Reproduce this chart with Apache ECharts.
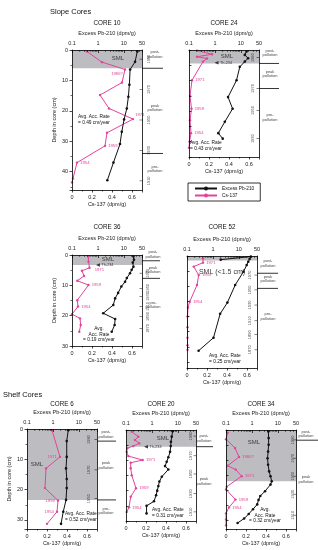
<!DOCTYPE html>
<html><head><meta charset="utf-8">
<script src="https://cdn.jsdelivr.net/npm/echarts@6/dist/echarts.min.js"></script>
<style>html,body{margin:0;padding:0;background:#fff}#c{width:318px;height:550px}</style>
</head><body><div id="c"></div>
<script>
// ---------- DATA ----------
const logMinorTicks = [0.2,0.3,0.4,0.5,0.6,0.7,0.8,0.9,2,3,4,5,6,7,8,9,20,30,40];
const zoneNames3 = ['post-\npollution','peak\npollution','pre-\npollution'];
const zoneNames2 = ['post-\npollution','peak\npollution'];

// CORE 10
const core10_csDepth = [0.5, 4, 6.4, 10.7, 14.8, 19.2, 22.7, 27.2, 31.5, 37, 42.2, 43.5];
const core10_cs = [0.15, 0.30, 0.53, 0.50, 0.28, 0.37, 0.61, 0.35, 0.33, 0.05, 0.01, 0.0];
const core10_csLabelIdx = [2, 6, 8, 9];
const core10_csLabels = ['1986?', '1971', '1959', '1954'];
const core10_pbDepth = [0.5, 3.9, 6.4, 11.4, 15.4, 19.2, 22.8, 26.9, 30.9, 37, 42.8];
const core10_pb = [33, 27, 17.4, 16.3, 14.9, 13, 10.2, 8.3, 7.1, 3.96, 2.3];
const core10_sml = 6;
const core10_yearDepth = [3, 13, 23, 33, 43];
const core10_years = ['1990', '1970', '1950', '1930', '1910'];
const core10_zoneBounds = [6, 34];
const core10_zoneDepth = [1.5, 19, 39];
const core10_rate = '0.49';

// CORE 24
const core24_csDepth = [0.2, 1.4, 2.2, 2.8, 3.8, 9.9, 15, 19.2, 23, 27.2, 30, 32];
const core24_cs = [0.08, 0.23, 0.08, 0.18, 0.14, 0.03, 0.01, 0.025, 0.01, 0.02, 0.005, 0.0];
const core24_csLabelIdx = [5, 7, 9];
const core24_csLabels = ['1971', '1959', '1954'];
const core24_pbDepth = [0.5, 1.6, 2.7, 3.8, 5.5, 9.9, 15.4, 19.2, 23.5, 27.2, 29];
const core24_pb = [16.6, 14.2, 19, 14.2, 9.1, 6.8, 3.2, 4.8, 2.4, 1.35, 2.0];
const core24_th = [1.15, 4.2];
const core24_sml = 4.4;
const core24_yearDepth = [2.5, 12.6, 19.8, 29];
const core24_years = ['1990', '1970', '1950', '1930'];
const core24_zoneBounds = [4.4, 12.6];
const core24_zoneDepth = [1, 7.8, 22];
const core24_rate = '0.43';

// CORE 36
const core36_csDepth = [0.5, 2.2, 4.2, 5.2, 6.9, 8.5, 9.9, 14.9, 17, 19.5, 20.9, 23.1, 25.3];
const core36_cs = [0.163, 0.165, 0.175, 0.10, 0.12, 0.053, 0.165, 0.053, 0.06, 0.0, 0.08, 0.087, 0.073];
const core36_csLabelIdx = [2, 6, 8];
const core36_csLabels = ['1971', '1959', '1954'];
const core36_pbDepth = [0.5, 1.6, 2.5, 3.9, 4.9, 6, 7.6, 8.8, 10.4, 12.5, 14.3, 16.5, 19.2, 21.1, 23.1, 25.3];
const core36_pb = [23.4, 24.5, 22, 23.4, 20, 17.3, 13, 11.1, 8, 6, 4.6, 3.9, 1.6, 4.6, 4.4, 3.4];
const core36_th = [1.0, 3.3];
const core36_sml = 3.3;
const core36_yearDepth = [6, 11, 13.7, 17, 20.3, 24.2];
const core36_years = ['1970', '1950', '1930', '1910', '1890', '1870'];
const core36_zoneBounds = [1.9, 7.7];
const core36_zoneDepth = [-0.2, 4.9, 16.5];
const core36_rate = '0.19';

// CORE 52
const core52_csDepth = [0.8, 2.2, 3.5, 6.3, 9.6, 15.1, 17, 20, 23.5, 27, 29.5, 31];
const core52_cs = [0.16, 0.16, 0.067, 0.117, 0.1, 0.027, 0.01, 0.005, 0.005, 0.005, 0.005, 0.005];
const core52_csLabelIdx = [1, 3, 5];
const core52_csLabels = ['1971', '1959', '1954'];
const core52_pbDepth = [1.2, 0.2, 1.0, 1.9, 3, 5.2, 9.6, 15.4, 19.1, 27, 31.3];
const core52_pb = [2.0, 29, 26, 23, 20, 15, 7.2, 3.6, 1.9, 1.05, 0.28];
const core52_sml = 1.5;
const core52_yearDepth = [6.3, 11.2, 16.2, 21.4, 26, 31];
const core52_years = ['1970', '1950', '1930', '1910', '1890', '1870'];
const core52_zoneBounds = [5.7, 10.7];
const core52_zoneDepth = [2.4, 7.6, 20];
const core52_rate = '0.25';

// CORE 6
const core6_csDepth = [0.4, 9.2, 13, 19.5, 23.6, 27.3, 31.3];
const core6_cs = [0.25, 0.33, 0.19, 0.18, 0.31, 0.30, 0.20];
const core6_csLabelIdx = [1, 4, 5];
const core6_csLabels = ['1971', '1959', '1954'];
const core6_pbDepth = [0.4, 4, 9.2, 13, 16.5, 19.5, 23.4, 27.3, 31.3];
const core6_pb = [3.9, 3.4, 3.4, 3.2, 3.4, 3.4, 3.2, 2.5, 2.05];
const core6_sml = 23.4;
const core6_yearDepth = [3.5, 13.5, 23];
const core6_years = ['1990', '1970', '1950'];
const core6_zoneBounds = [4, 23.4];
const core6_zoneDepth = [1.8, 12, 27];
const core6_rate = '0.52';

// CORE 20
const core20_csDepth = [0.55, 2.2, 3.3, 4.4, 5.3, 6, 7.2, 8.6, 9.9, 10.8, 12.6, 14.9, 19.2, 22, 25.5, 27];
const core20_cs = [0.057, 0.123, 0.09, 0.133, 0.073, 0.013, 0.007, 0.023, 0.167, 0.047, 0.047, 0.057, 0.1, 0.047, 0.03, 0.007];
const core20_csLabelIdx = [8, 12, 14];
const core20_csLabels = ['1971', '1959', '1954'];
const core20_pbDepth = [0.4, 2.2, 3.9, 5.3, 7.2, 9, 10.5, 11.9, 13, 15.4, 17, 18.5, 20, 21.5, 23.5, 25, 27.5];
const core20_pb = [6.3, 5.8, 5.4, 5.3, 5.0, 4.3, 3.7, 3.2, 4.3, 2.4, 1.94, 1.77, 1.6, 1.45, 1.2, 0.62, 0.62];
const core20_th = [0.59, 5.5];
const core20_sml = 5.5;
const core20_yearDepth = [2, 8.5, 14.5, 21, 27];
const core20_years = ['1990', '1970', '1950', '1930', '1910'];
const core20_zoneBounds = [5.5];
const core20_zoneDepth = [2.8, 17];
const core20_rate = '0.31';

// CORE 34
const core34_csDepth = [0.9, 3.1, 6, 9, 11.9, 13.2, 15.4, 18.9, 19.8, 23.2, 25.8, 27.8, 29.8, 31.8];
const core34_cs = [0.017, 0.0, 0.09, 0.13, 0.017, 0.097, 0.157, 0.007, 0.0, 0.095, 0.03, 0.0, 0.0, 0.0];
const core34_csLabelIdx = [3, 6, 9, 10];
const core34_csLabels = ['1986?', '1971', '1959', '1954'];
const core34_pbDepth = [0.5, 2.7, 4.9, 7.2, 9.4, 11.6, 13.8, 15.4, 17.1, 18.2, 20.4, 22, 23.3, 24.8, 26.4, 28, 29.5, 31];
const core34_pb = [4.3, 4.4, 4.4, 4.2, 4.0, 4.2, 4.6, 5.2, 5.8, 5.2, 3.2, 2.1, 1.8, 1.6, 1.1, 0.75, 0.5, 0.28];
const core34_sml = 17.1;
const core34_yearDepth = [3.3, 9.4, 15.4, 21.4, 28.4];
const core34_years = ['1990', '1970', '1950', '1930', '1910'];
const core34_zoneBounds = [3.4];
const core34_zoneDepth = [1.3, 16.5];
const core34_rate = '0.32';

// ---------- LAYOUT / STYLE ----------
const FONT = '"Liberation Sans", Arial, sans-serif';
const PINK = '#e2449a', BLACK = '#111111', GRAY = '#bdbdc1';

const panels = [
  {title:'CORE 10', left:72, top:50, h:140, ymax:46, titleY:23, depthName:true,
   csD:core10_csDepth, cs:core10_cs, li:core10_csLabelIdx, lt:core10_csLabels,
   lp:[['left',[1,4]],['right',[-1,-4]],['right',[0,0]],['right',[0,0]]],
   pbD:core10_pbDepth, pb:core10_pb, th:null, sml:core10_sml, smlText:'SML', smlPos:'inside', smlOff:[11,-1], smlSize:6,
   yd:core10_yearDepth, yr:core10_years, yearX:14.5, zb:core10_zoneBounds, zd:core10_zoneDepth, zn:zoneNames3, labelX:21, lineEnd:29,
   avg:'Avg. Acc. Rate\n= '+core10_rate+' cm/year', avgX:78, avgY:114, avgAlign:'left'},
  {title:'CORE 24', left:189, top:50, h:107, ymax:35, titleY:23, depthName:false,
   csD:core24_csDepth, cs:core24_cs, li:core24_csLabelIdx, lt:core24_csLabels,
   lp:[['right',[0,0]],['right',[0,0]],['right',[0,0]]],
   pbD:core24_pbDepth, pb:core24_pb, th:core24_th, sml:core24_sml, smlText:'SML', smlPos:'inside', smlOff:[3,0], smlSize:6,
   yd:core24_yearDepth, yr:core24_years, yearX:2, zb:core24_zoneBounds, zd:core24_zoneDepth, zn:zoneNames3, labelX:19, lineEnd:28,
   avg:'Avg. Acc. Rate\n= '+core24_rate+' cm/year', avgX:190, avgY:140, avgAlign:'left'},
  {title:'CORE 36', left:72, top:255, h:91, ymax:30, titleY:227, depthName:true,
   csD:core36_csDepth, cs:core36_cs, li:core36_csLabelIdx, lt:core36_csLabels,
   lp:[['right',[2,2]],['right',[0,0]],['right',[0,0]]],
   pbD:core36_pbDepth, pb:core36_pb, th:core36_th, sml:core36_sml, smlText:'SML', smlPos:'inside', smlOff:[1,-1], smlSize:6,
   yd:core36_yearDepth, yr:core36_years, yearX:14, zb:core36_zoneBounds, zd:core36_zoneDepth, zn:zoneNames3, labelX:19, lineEnd:26,
   avg:'Avg.\nAcc. Rate\n= '+core36_rate+' cm/year', avgX:99, avgY:326, avgAlign:'center'},
  {title:'CORE 52', left:187, top:256, h:112, ymax:37, titleY:227, depthName:false,
   csD:core52_csDepth, cs:core52_cs, li:core52_csLabelIdx, lt:core52_csLabels,
   lp:[['right',[0,0]],['right',[0,0]],['right',[0,0]]],
   pbD:core52_pbDepth, pb:core52_pb, th:null, sml:core52_sml, smlText:'SML (<1.5 cm)', smlPos:'bottom', smlOff:[0,3], smlSize:7,
   yd:core52_yearDepth, yr:core52_years, yearX:1, zb:core52_zoneBounds, zd:core52_zoneDepth, zn:zoneNames3, labelX:19, lineEnd:29,
   avg:'Avg. Acc. Rate\n= '+core52_rate+' cm/year', avgX:209, avgY:353, avgAlign:'left'},
  {title:'CORE 6', left:27, top:429, h:100, ymax:33, titleY:404, depthName:true,
   csD:core6_csDepth, cs:core6_cs, li:core6_csLabelIdx, lt:core6_csLabels,
   lp:[['left',[0,0]],['left',[0,0]],['left',[0,0]]],
   pbD:core6_pbDepth, pb:core6_pb, th:null, sml:core6_sml, smlText:'SML', smlPos:'inside', smlOff:[-25,0], smlSize:6,
   yd:core6_yearDepth, yr:core6_years, yearX:0, zb:core6_zoneBounds, zd:core6_zoneDepth, zn:zoneNames3, labelX:17, lineEnd:27,
   avg:'Avg. Acc. Rate\n= '+core6_rate+' cm/year', avgX:65, avgY:511, avgAlign:'left'},
  {title:'CORE 20', left:126, top:430, h:91, ymax:30, titleY:404, depthName:false,
   csD:core20_csDepth, cs:core20_cs, li:core20_csLabelIdx, lt:core20_csLabels,
   lp:[['right',[0,0]],['right',[0,0]],['right',[0,0]]],
   pbD:core20_pbDepth, pb:core20_pb, th:core20_th, sml:core20_sml, smlText:'SML', smlPos:'inside', smlOff:[2,0], smlSize:6,
   yd:core20_yearDepth, yr:core20_years, yearX:2.7, zb:core20_zoneBounds, zd:core20_zoneDepth, zn:zoneNames2, labelX:16, lineEnd:25,
   avg:'Avg. Acc. Rate\n= '+core20_rate+' cm/year', avgX:152, avgY:507, avgAlign:'left'},
  {title:'CORE 34', left:226, top:430, h:99, ymax:33, titleY:404, depthName:false,
   csD:core34_csDepth, cs:core34_cs, li:core34_csLabelIdx, lt:core34_csLabels,
   lp:[['right',[0,0]],['right',[0,0]],['right',[0,0]],['right',[0,0]]],
   pbD:core34_pbDepth, pb:core34_pb, th:null, sml:core34_sml, smlText:'SML', smlPos:'inside', smlOff:[-7,-13], smlSize:6,
   yd:core34_yearDepth, yr:core34_years, yearX:5, zb:core34_zoneBounds, zd:core34_zoneDepth, zn:zoneNames2, labelX:18, lineEnd:30,
   avg:'Avg.\nAcc. Rate\n= '+core34_rate+' cm/year', avgX:265, avgY:507, avgAlign:'center'}
];

const option = {
  animation:false, backgroundColor:'#fff', textStyle:{fontFamily:FONT},
  grid:[], xAxis:[], yAxis:[], series:[], graphic:[],
  legend:{data:['Excess Pb-210','Cs-137'], orient:'vertical', left:188, top:183,
    padding:[3,6,3,6], itemGap:2, itemWidth:22, itemHeight:5, borderColor:'#000', borderWidth:0.8,
    borderRadius:0, selectedMode:false, textStyle:{fontSize:4.8, color:'#111', fontFamily:FONT}}
};

const aLine = () => ({show:true, onZero:false, lineStyle:{color:'#000', width:0.8}});
const txt = (t, x, y, size, align, vAlign, color) => ({type:'text', x:x, y:y, silent:true, z:50,
  style:{text:t, fill:color||'#111', font:size+'px '+FONT, fontSize:size, fontFamily:FONT,
    align:align, verticalAlign:vAlign, textAlign:align, textVerticalAlign:vAlign, lineHeight:size*1.15}});

option.graphic.push(txt('Slope Cores', 50, 12, 7.5, 'left', 'middle'));
option.graphic.push(txt('Shelf Cores', 3, 395, 7.5, 'left', 'middle'));

panels.forEach(p => {
  const g = option.grid.length;
  option.grid.push({left:p.left, top:p.top, width:70, height:p.h, containLabel:false, outerBoundsMode:'none'});
  const xb = option.xAxis.length;
  option.xAxis.push({type:'value', gridIndex:g, position:'bottom', min:0, max:0.7, interval:0.2, z:5,
    name:'Cs-137 (dpm/g)', nameLocation:'middle', nameGap:11.5,
    nameTextStyle:{fontSize:5.5, color:'#222', fontFamily:FONT},
    axisLine:aLine(), axisTick:{show:true, inside:false, length:2.5, lineStyle:{color:'#000', width:0.7}},
    minorTick:{show:true, splitNumber:2, length:1.5, lineStyle:{color:'#000', width:0.6}},
    axisLabel:{fontSize:5.5, color:'#222', margin:4, fontFamily:FONT, showMaxLabel:false},
    splitLine:{show:false}, minorSplitLine:{show:false}});
  const xt = option.xAxis.length;
  option.xAxis.push({type:'log', logBase:10, gridIndex:g, position:'top', min:0.1, max:50, z:5,
    name:'Excess Pb-210 (dpm/g)', nameLocation:'middle', nameGap:13.5,
    nameTextStyle:{fontSize:5.5, color:'#222', fontFamily:FONT},
    axisLine:aLine(), axisTick:{show:true, inside:true, length:3, lineStyle:{color:'#000', width:0.7}},
    axisLabel:{fontSize:5.5, color:'#222', margin:4, fontFamily:FONT, formatter:v => String(+(+v).toPrecision(3))},
    splitLine:{show:false}});
  const yl = option.yAxis.length;
  option.yAxis.push({type:'value', gridIndex:g, position:'left', inverse:true, min:0, max:p.ymax, z:5,
    interval: p.depthName ? 10 : 5,
    name: p.depthName ? 'Depth in core (cm)' : '', nameLocation:'middle', nameGap:15, nameRotate:90,
    nameTextStyle:{fontSize:5.5, color:'#222', fontFamily:FONT},
    axisLine:aLine(), axisTick:{show:true, inside:!p.depthName, length:2.5, lineStyle:{color:'#000', width:0.7}},
    minorTick:{show:p.depthName, splitNumber:2, length:1.5, lineStyle:{color:'#000', width:0.6}},
    axisLabel:{show:p.depthName, fontSize:5.5, color:'#222', margin:4, fontFamily:FONT, showMaxLabel:(p.ymax % 10 === 0)},
    splitLine:{show:false}, minorSplitLine:{show:false}});
  option.yAxis.push({type:'value', gridIndex:g, position:'right', inverse:true, min:0, max:p.ymax, z:5,
    axisLine:aLine(), axisTick:{show:false}, axisLabel:{show:false}, splitLine:{show:false}});

  const sg = option.grid.length;
  option.grid.push({left:p.left+62, top:p.top, width:30, height:p.h, containLabel:false, outerBoundsMode:'none'});
  const sx = option.xAxis.length;
  option.xAxis.push({type:'value', gridIndex:sg, min:0, max:30, show:false});
  const sy = option.yAxis.length;
  option.yAxis.push({type:'value', gridIndex:sg, min:0, max:p.ymax, inverse:true, show:false});

  // Cs-137 (pink) with SML shading
  const csData = p.cs.map((v, k) => {
    const item = {value:[v, p.csD[k]]};
    const j = p.li.indexOf(k);
    if (j >= 0) {
      item.label = {show:true, formatter:p.lt[j], position:p.lp[j][0], offset:p.lp[j][1], distance:2,
        color:PINK, fontSize:4.2, fontFamily:FONT};
    }
    return item;
  });
  option.series.push({name:'Cs-137', type:'line', xAxisIndex:xb, yAxisIndex:yl, data:csData,
    symbol:'circle', symbolSize:2.4, showAllSymbol:true, z:3,
    lineStyle:{color:PINK, width:1}, itemStyle:{color:PINK},
    markArea:{silent:true, itemStyle:{color:GRAY},
      label:{show:true, position:p.smlPos, offset:p.smlOff, formatter:p.smlText, fontSize:p.smlSize, color:'#3a3a3a', fontFamily:FONT},
      data:[[{yAxis:0}, {yAxis:p.sml}]]}});
  // Excess Pb-210 (black) on log axis
  option.series.push({name:'Excess Pb-210', type:'line', xAxisIndex:xt, yAxisIndex:yl,
    data:p.pb.map((v, k) => [v, p.pbD[k]]), symbol:'circle', symbolSize:2.6, showAllSymbol:true, z:4,
    lineStyle:{color:BLACK, width:1}, itemStyle:{color:BLACK}});
  // log minor ticks on top axis
  option.series.push({type:'scatter', xAxisIndex:xt, yAxisIndex:yl, silent:true, clip:false, z:6,
    data:logMinorTicks.map(v => [v, 0]), symbol:'rect', symbolSize:[0.6, 2], symbolOffset:[0, 1],
    itemStyle:{color:'#000'}});
  if (p.th) {
    option.series.push({type:'scatter', xAxisIndex:xt, yAxisIndex:yl, silent:true, z:5,
      data:[{value:[p.th[0], p.th[1]], label:{show:true, formatter:'Th-234', position:'right', distance:1.5,
        fontSize:3.8, color:'#111', fontFamily:FONT}}],
      symbol:'triangle', symbolRotate:90, symbolSize:[3.5, 4], itemStyle:{color:BLACK}});
  }
  // pollution zone boundaries
  p.zb.forEach(d => {
    option.series.push({type:'line', xAxisIndex:sx, yAxisIndex:sy, silent:true, clip:false,
      data:[[8, d], [p.lineEnd, d]], symbol:'none', lineStyle:{color:'#000', width:0.8}});
  });
  option.series.push({type:'scatter', xAxisIndex:sx, yAxisIndex:sy, silent:true, clip:false,
    data:p.zd.map((d, k) => ({value:[p.labelX, d], name:p.zn[k]})),
    symbolSize:0.1, itemStyle:{color:'rgba(0,0,0,0)'},
    label:{show:true, position:'inside', formatter:'{b}', fontSize:4, lineHeight:4.6, color:'#111',
      align:'center', verticalAlign:'middle', fontFamily:FONT}});
  // year labels + ticks
  option.series.push({type:'scatter', xAxisIndex:sx, yAxisIndex:sy, silent:true, clip:false,
    data:p.yd.map((d, k) => ({value:[p.yearX, d], name:p.yr[k]})),
    symbolSize:0.1, itemStyle:{color:'rgba(0,0,0,0)'},
    label:{show:true, position:'inside', formatter:'{b}', fontSize:4, rotate:90, color:'#111',
      align:'center', verticalAlign:'middle', fontFamily:FONT}});
  option.series.push({type:'scatter', xAxisIndex:sx, yAxisIndex:sy, silent:true, clip:false,
    data:p.yd.map(d => [8, d]), symbol:'rect', symbolSize:[2.5, 0.6], symbolOffset:[-1.25, 0],
    itemStyle:{color:'#000'}});

  option.graphic.push(txt(p.title, p.left + 35, p.titleY, 6.3, 'center', 'middle'));
  option.graphic.push(txt(p.avg, p.avgX, p.avgY, 4.8, p.avgAlign, 'top'));
});

const chart = echarts.init(document.getElementById('c'), null, {renderer:'canvas', width:318, height:550});
chart.setOption(option);
</script></body></html>
